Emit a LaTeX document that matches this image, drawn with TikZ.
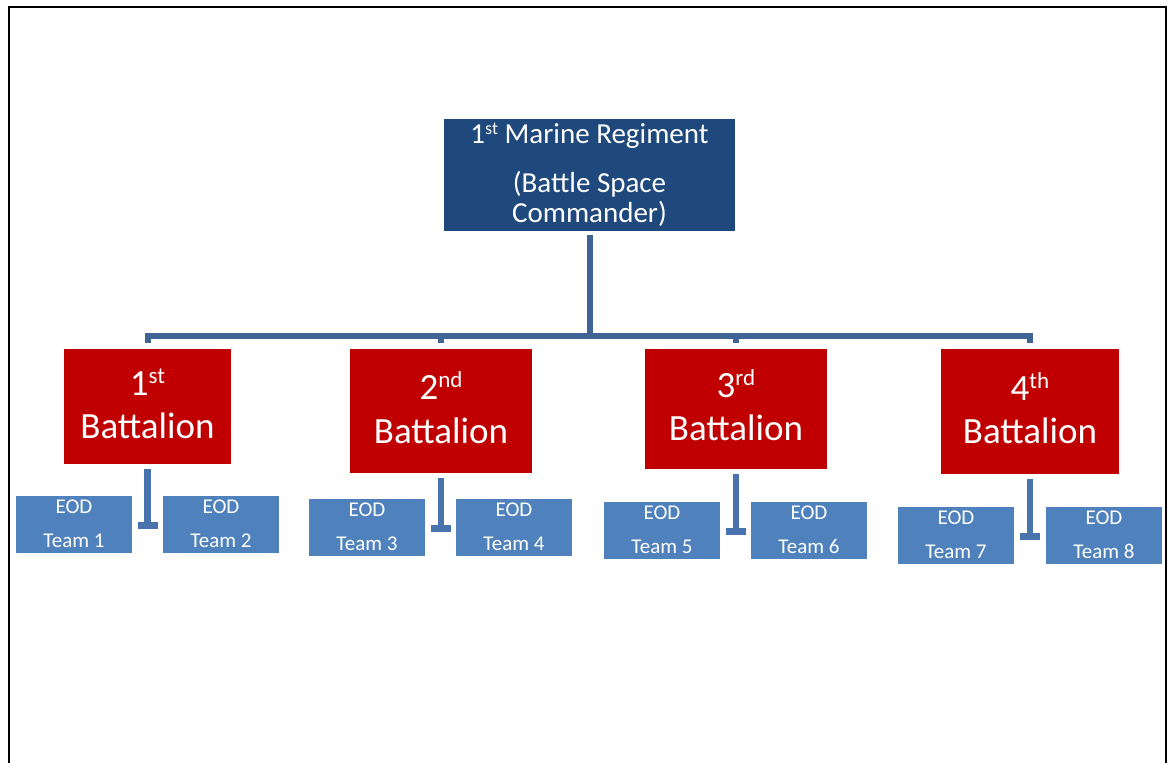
\documentclass[tikz,border=0pt]{standalone}
\usepackage{fontspec}
\setmainfont{Carlito}
\definecolor{regblue}{HTML}{1F497D}
\definecolor{batred}{HTML}{C00000}
\definecolor{teamblue}{HTML}{4F81BD}
\definecolor{connblue}{HTML}{406496}
\definecolor{tblue}{HTML}{4873AC}
\newcommand{\supr}[3]{\raisebox{#2pt}{\fontsize{#1}{#1}\selectfont #3}}
\begin{document}
\begin{tikzpicture}[x=1pt,y=1pt,
  boxbase/.style={inner sep=0pt, outer sep=0pt, anchor=north west},
  regbox/.style={boxbase, fill=regblue, minimum width=291pt, minimum height=112pt},
  batbox/.style={boxbase, fill=batred, minimum width=#1},
  teambox/.style={boxbase, fill=teamblue, minimum width=116pt, minimum height=57pt},
  regtext/.style={anchor=base, inner sep=0pt, text=white, font=\fontsize{29}{29}\selectfont},
  battext/.style={anchor=base, inner sep=0pt, text=white, font=\fontsize{37}{37}\selectfont},
  teamtext/.style={anchor=base, inner sep=0pt, text=white, font=\fontsize{21}{21}\selectfont},
  conn/.style={draw=connblue, line width=6pt},
  tconn/.style={draw=tblue, line width=6.5pt},
  frameline/.style={draw=black, line width=2pt}
]
\useasboundingbox (0,0) rectangle (1171,-763);
\draw[frameline] (9,-763) -- (9,-7) -- (1166,-7) -- (1166,-763);

% regiment
\node[regbox] (reg) at (444,-119) {};
\node[regtext] (regl1) at (589.5,-143) {1\supr{18}{9}{st} Marine Regiment};
\node[regtext] (regl2) at (589.5,-192) {(Battle Space};
\node[regtext] (regl3) at (589.5,-222) {Commander)};

% battalions
\node[batbox=167pt, minimum height=115pt] (b1) at (64,-349) {};
\node[batbox=182pt, minimum height=124pt] (b2) at (350,-349) {};
\node[batbox=182pt, minimum height=120pt] (b3) at (645,-349) {};
\node[batbox=178pt, minimum height=125pt] (b4) at (941,-349) {};

\node[battext] (b1a) at ([yshift=-46pt]b1.north) {1\supr{23}{12}{st}};
\node[battext] (b1b) at ([yshift=-89pt]b1.north) {Battalion};
\node[battext] (b2a) at ([yshift=-50pt]b2.north) {2\supr{23}{12}{nd}};
\node[battext] (b2b) at ([yshift=-94pt]b2.north) {Battalion};
\node[battext] (b3a) at ([yshift=-48pt]b3.north) {3\supr{23}{12}{rd}};
\node[battext] (b3b) at ([yshift=-91pt]b3.north) {Battalion};
\node[battext] (b4a) at ([yshift=-51pt]b4.north) {4\supr{23}{12}{th}};
\node[battext] (b4b) at ([yshift=-94pt]b4.north) {Battalion};

% teams
\node[teambox] (t1) at (16,-496) {};
\node[teambox] (t2) at (163,-496) {};
\node[teambox] (t3) at (309,-499) {};
\node[teambox] (t4) at (456,-499) {};
\node[teambox] (t5) at (604,-502) {};
\node[teambox] (t6) at (751,-502) {};
\node[teambox] (t7) at (898,-507) {};
\node[teambox] (t8) at (1046,-507) {};
\foreach \i in {1,...,8}{
  \node[teamtext] (e\i) at ([yshift=-17pt]t\i.north) {EOD};
  \node[teamtext] (n\i) at ([yshift=-51pt]t\i.north) {Team \i};
}

% top connectors
\coordinate (bus) at (0,-336);
\draw[conn] ([yshift=-4pt]reg.south) -- (reg.south |- bus);
\draw[conn] ([yshift=6pt]b1.north) -- (b1.north |- bus) -- (b4.north |- bus) -- ([yshift=6pt]b4.north);
\draw[conn] (b2.north |- bus) -- ([yshift=6pt]b2.north);
\draw[conn] (b3.north |- bus) -- ([yshift=6pt]b3.north);

% T connectors
\foreach \b/\l in {1/1,2/3,3/5,4/7}{
  \coordinate (tb\b) at ([yshift=-1pt]b\b.south |- t\l.center);
  \draw[tconn] ([yshift=-5pt]b\b.south) -- ([yshift=-3pt]tb\b);
  \draw[tconn] ([xshift=-10pt]tb\b) -- ([xshift=10pt]tb\b);
}
\end{tikzpicture}
\end{document}
